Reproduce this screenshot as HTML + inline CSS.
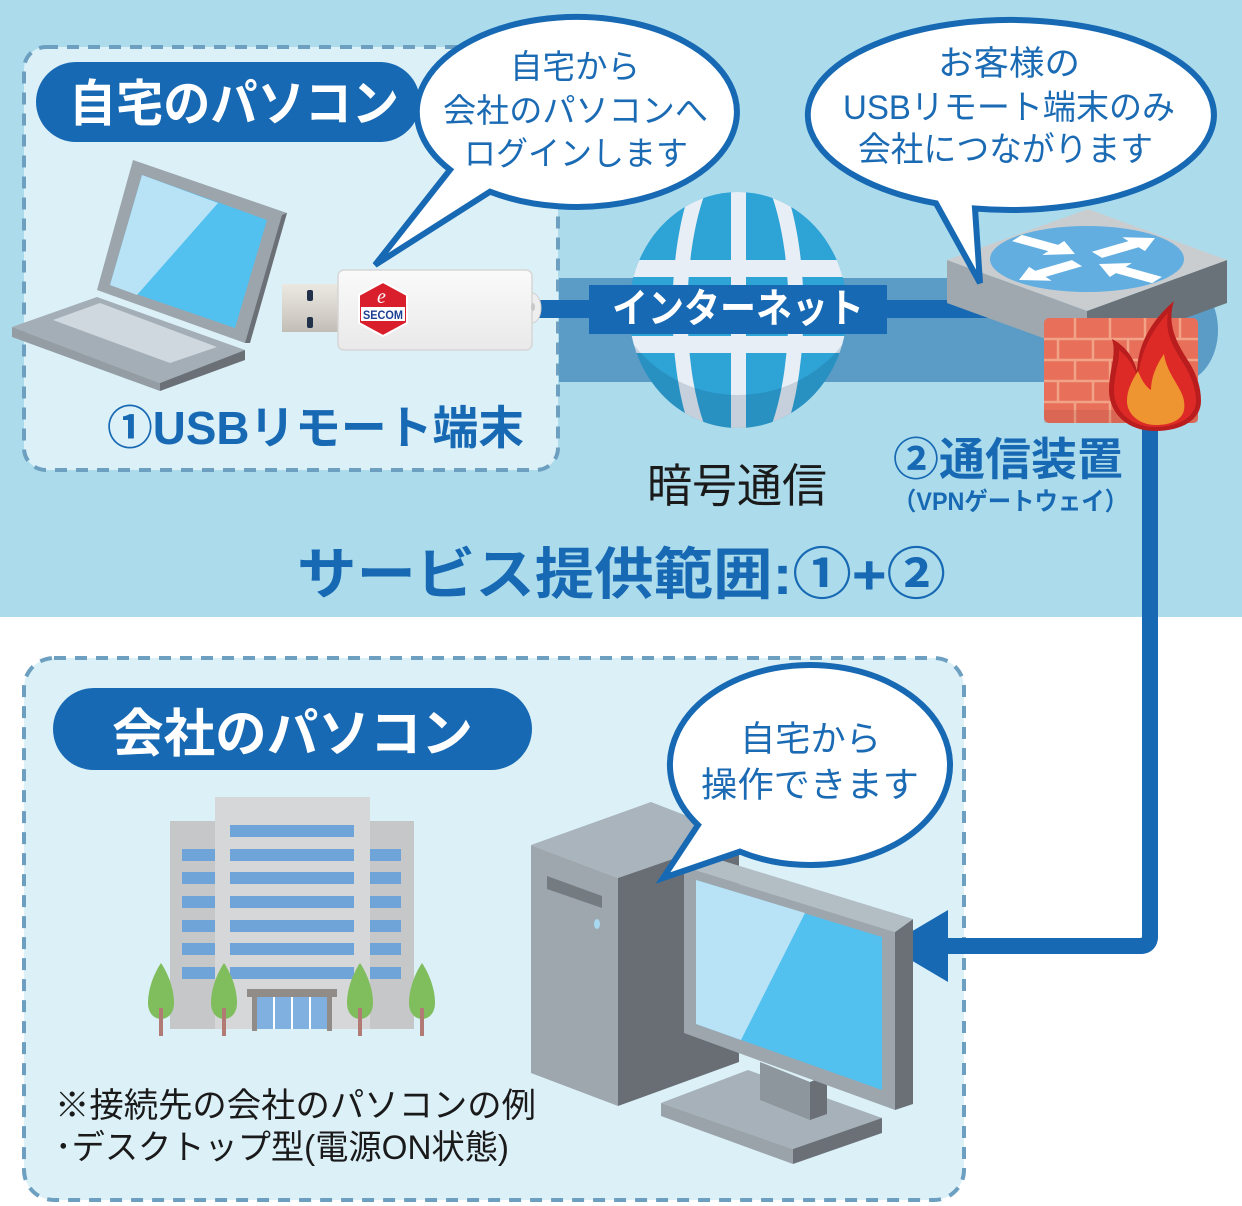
<!DOCTYPE html>
<html><head><meta charset="utf-8"><style>
html,body{margin:0;padding:0;background:#fff;}
svg{display:block;}
text{font-family:"Liberation Sans","Noto Sans CJK JP",sans-serif;}
.b{font-weight:700;}
</style></head><body>
<svg width="1242" height="1206" viewBox="0 0 1242 1206" xmlns="http://www.w3.org/2000/svg">
<defs>
<clipPath id="gc"><ellipse cx="738" cy="310" rx="109" ry="118"/></clipPath>
<linearGradient id="plug" x1="0" y1="0" x2="0" y2="1"><stop offset="0" stop-color="#ebe8e2"/><stop offset="0.5" stop-color="#d9d5ce"/><stop offset="1" stop-color="#c2bdb5"/></linearGradient>
<linearGradient id="ub" x1="0" y1="0" x2="0" y2="1"><stop offset="0" stop-color="#fafafa"/><stop offset="1" stop-color="#e9e9e9"/></linearGradient>
</defs>

<rect x="0" y="0" width="1242" height="617" fill="#acdcec"/>
<rect x="0" y="617" width="1242" height="589" fill="#ffffff"/>

<rect x="24" y="47" width="534" height="423" rx="22" fill="#dcf0f8" stroke="#6d9fc0" stroke-width="4" stroke-dasharray="12 9"/>

<path d="M559,278 H1180 A38 52 0 0 1 1180,382 H559 Z" fill="#5a9cc6"/>

<g clip-path="url(#gc)">
<rect x="620" y="180" width="240" height="260" fill="#2ea3d6"/>
<ellipse cx="738" cy="310" rx="58" ry="165" fill="none" stroke="#e7eef6" stroke-width="15"/>
<rect x="731" y="180" width="15" height="260" fill="#e7eef6"/>
<rect x="620" y="260" width="240" height="17" fill="#e7eef6"/>
<rect x="620" y="336" width="240" height="17" fill="#e7eef6"/>
<path fill-rule="evenodd" d="M620,180 H860 V440 H620 Z M608,270 A130 125 0 1 0 868,270 A130 125 0 1 0 608,270 Z" fill="rgba(20,55,85,0.16)"/>
</g>

<rect x="530" y="300" width="460" height="18" fill="#1769b3"/>
<rect x="589" y="285" width="298" height="49" fill="#1769b3"/>
<text x="612" y="322" font-size="40" class="b" fill="#ffffff" textLength="252" lengthAdjust="spacingAndGlyphs">インターネット</text>

<polygon points="947,260 1087,311 1087,354 947,303" fill="#9ea8ae"/>
<polygon points="1087,311 1227,260 1227,303 1087,354" fill="#697278"/>
<polygon points="947,260 1088,209 1227,260 1087,311" fill="#c9cdd0"/>
<ellipse cx="1087" cy="259" rx="97" ry="33" fill="#62aee0"/>
<g transform="translate(1087,259) scale(1,0.42)" fill="#ffffff">
<polygon points="-74.9,-42.5 -38.7,-18.7 -44.8,-9.5 -12,-12 -22.8,-42.9 -28.9,-33.7 -65.1,-57.5"/>
<polygon points="15.1,-2.6 51.7,-27.9 57.9,-18.8 68,-50 35.3,-51.8 41.5,-42.7 4.9,-17.4"/>
<polygon points="-15.1,2.6 -51.7,27.9 -57.9,18.8 -68,50 -35.3,51.8 -41.5,42.7 -4.9,17.4"/>
<polygon points="74.9,42.5 38.7,18.7 44.8,9.5 12,12 22.8,42.9 28.9,33.7 65.1,57.5"/>
</g>

<rect x="1044" y="318" width="154" height="105" rx="5" fill="#e8705a"/>
<g stroke="#f2a286" stroke-width="2.5">
<line x1="1044" y1="339" x2="1198" y2="339"/>
<line x1="1044" y1="360" x2="1198" y2="360"/>
<line x1="1044" y1="381" x2="1198" y2="381"/>
<line x1="1044" y1="402" x2="1198" y2="402"/>
<line x1="1075" y1="318" x2="1075" y2="339"/><line x1="1110" y1="318" x2="1110" y2="339"/><line x1="1145" y1="318" x2="1145" y2="339"/><line x1="1180" y1="318" x2="1180" y2="339"/>
<line x1="1058" y1="339" x2="1058" y2="360"/><line x1="1093" y1="339" x2="1093" y2="360"/><line x1="1128" y1="339" x2="1128" y2="360"/><line x1="1163" y1="339" x2="1163" y2="360"/>
<line x1="1075" y1="360" x2="1075" y2="381"/><line x1="1110" y1="360" x2="1110" y2="381"/><line x1="1145" y1="360" x2="1145" y2="381"/><line x1="1180" y1="360" x2="1180" y2="381"/>
<line x1="1058" y1="381" x2="1058" y2="402"/><line x1="1093" y1="381" x2="1093" y2="402"/><line x1="1128" y1="381" x2="1128" y2="402"/><line x1="1163" y1="381" x2="1163" y2="402"/>
<line x1="1075" y1="402" x2="1075" y2="423"/><line x1="1110" y1="402" x2="1110" y2="423"/><line x1="1145" y1="402" x2="1145" y2="423"/><line x1="1180" y1="402" x2="1180" y2="423"/>
</g>
<rect x="1044" y="410" width="154" height="13" fill="rgba(120,40,30,0.12)"/>

<path d="M1150,425 V936 Q1150,946 1140,946 H940" fill="none" stroke="#1769b3" stroke-width="16"/>
<polygon points="887,946 948,910 948,982" fill="#1769b3"/>

<path d="M1155,431 C1127,431 1109,413 1109,390 C1109,370 1117,355 1112,339 C1127,347 1134,359 1137,371 C1138,344 1151,321 1174,301 C1166,325 1178,345 1189,362 C1197,375 1201,388 1201,401 C1201,419 1183,431 1155,431 Z" fill="#b91d1d"/>
<path d="M1155,427 C1131,427 1114,411 1114,391 C1114,374 1120,362 1119,350 C1129,358 1135,368 1138,380 C1140,352 1152,330 1168,313 C1164,334 1175,350 1185,366 C1192,378 1196,390 1196,401 C1196,416 1180,427 1155,427 Z" fill="#de2a26"/>
<path d="M1156,425 C1139,425 1127,414 1127,401 C1127,389 1133,379 1138,371 C1142,381 1146,387 1151,390 C1151,377 1157,364 1164,354 C1166,369 1175,380 1181,392 C1184,398 1185,404 1184,410 C1182,420 1171,425 1156,425 Z" fill="#ee9430"/>

<path d="M936,203.3 A203 95 0 1 1 975,208.5 L980,283 Z" fill="#ffffff" stroke="#1769b3" stroke-width="6"/>
<text x="938" y="75" font-size="34" fill="#1a6ab4" textLength="142" lengthAdjust="spacingAndGlyphs">お客様の</text>
<text x="843" y="119" font-size="34" fill="#1a6ab4" textLength="332" lengthAdjust="spacingAndGlyphs">USBリモート端末のみ</text>
<text x="858" y="161" font-size="34" fill="#1a6ab4" textLength="295" lengthAdjust="spacingAndGlyphs">会社につながります</text>

<rect x="36" y="62" width="384" height="80" rx="40" fill="#1769b3"/>
<text x="69" y="121" font-size="50" class="b" fill="#ffffff" textLength="330" lengthAdjust="spacingAndGlyphs">自宅のパソコン</text>

<path d="M450,169.8 A160 95 0 1 1 490,191.7 L375,265 Z" fill="#ffffff" stroke="#1769b3" stroke-width="6"/>
<text x="510" y="78" font-size="33" fill="#1a6ab4" textLength="130" lengthAdjust="spacingAndGlyphs">自宅から</text>
<text x="443" y="122" font-size="33" fill="#1a6ab4" textLength="265" lengthAdjust="spacingAndGlyphs">会社のパソコンへ</text>
<text x="464" y="165" font-size="33" fill="#1a6ab4" textLength="224" lengthAdjust="spacingAndGlyphs">ログインします</text>

<polygon points="12,327 97,297 245,350 160,383" fill="#a4aeb6"/>
<polygon points="12,327 160,383 160,391 12,337" fill="#949da4"/>
<polygon points="160,383 245,350 245,360 160,391" fill="#6a7076"/>
<polygon points="53,320 100,303 217,347 170,363" fill="#cfd8df"/>
<polygon points="75,342 97,337 117,347 95,353" fill="#a4aeb6"/>
<polygon points="133,160 287,213 245,343 97,290" fill="#9ca5ac"/>
<polygon points="282,215 287,213 250,343 245,343" fill="#6a7076"/>
<polygon points="142,175 267,220 235,328 110,285" fill="#52c1ef"/>
<polygon points="142,175 218,203 137,295 110,285" fill="#b8e3f7"/>

<rect x="282" y="284" width="60" height="48" fill="url(#plug)"/>
<rect x="307" y="290" width="6" height="11" rx="2" fill="#23304a"/>
<rect x="307" y="317" width="6" height="11" rx="2" fill="#23304a"/>
<ellipse cx="532" cy="308" rx="9" ry="15" fill="#eeeeee" stroke="#d0d0d0" stroke-width="1"/>
<rect x="338" y="270" width="194" height="80" rx="6" fill="url(#ub)" stroke="#d6d6d6" stroke-width="1.5"/>
<ellipse cx="533" cy="307" rx="2" ry="4" fill="#c8c8c8"/>
<polygon points="383,282 407,295 407,323 383,336 359,323 359,295" fill="#d91f2b" stroke="#ffffff" stroke-width="2"/>
<rect x="361" y="307" width="44" height="14" fill="#ffffff"/>
<text x="363" y="319" font-size="12" class="b" fill="#1b3f93" textLength="40" lengthAdjust="spacingAndGlyphs">SECOM</text>
<text x="377" y="303" font-size="20" font-style="italic" fill="#ffffff" style="font-family:'Liberation Serif',serif">e</text>

<text x="107" y="444" font-size="46" class="b" fill="#1769b3" textLength="417" lengthAdjust="spacingAndGlyphs">①USBリモート端末</text>
<text x="647" y="502" font-size="46" fill="#1a1a1a" textLength="180" lengthAdjust="spacingAndGlyphs">暗号通信</text>
<text x="893" y="475" font-size="45" class="b" fill="#1769b3" textLength="230" lengthAdjust="spacingAndGlyphs">②通信装置</text>
<text x="893" y="510" font-size="25" class="b" fill="#1769b3" textLength="235" lengthAdjust="spacingAndGlyphs">（VPNゲートウェイ）</text>
<text x="297" y="594" font-size="56" class="b" fill="#1769b3" textLength="649" lengthAdjust="spacingAndGlyphs">サービス提供範囲:①+②</text>

<rect x="24" y="658" width="940" height="542" rx="30" fill="#dcf0f8" stroke="#6d9fc0" stroke-width="4" stroke-dasharray="12 9"/>

<path d="M1150,900 V936 Q1150,946 1140,946 H940" fill="none" stroke="#1769b3" stroke-width="16"/>
<polygon points="887,946 948,910 948,982" fill="#1769b3"/>

<rect x="53" y="688" width="479" height="82" rx="41" fill="#1769b3"/>
<text x="112" y="752" font-size="52" class="b" fill="#ffffff" textLength="361" lengthAdjust="spacingAndGlyphs">会社のパソコン</text>

<rect x="170" y="821" width="45" height="208" fill="#c5c7c9"/>
<rect x="370" y="821" width="44" height="208" fill="#c5c7c9"/>
<rect x="215" y="797" width="155" height="232" fill="#d5d7d9"/>
<g fill="#6fa4d8">
<rect x="230" y="825" width="124" height="12"/>
<rect x="230" y="849" width="124" height="12"/>
<rect x="230" y="872" width="124" height="12"/>
<rect x="230" y="896" width="124" height="12"/>
<rect x="230" y="920" width="124" height="12"/>
<rect x="230" y="943" width="124" height="12"/>
<rect x="230" y="967" width="124" height="12"/>
<rect x="182" y="849" width="33" height="12"/><rect x="370" y="849" width="31" height="12"/>
<rect x="182" y="872" width="33" height="12"/><rect x="370" y="872" width="31" height="12"/>
<rect x="182" y="896" width="33" height="12"/><rect x="370" y="896" width="31" height="12"/>
<rect x="182" y="920" width="33" height="12"/><rect x="370" y="920" width="31" height="12"/>
<rect x="182" y="943" width="33" height="12"/><rect x="370" y="943" width="31" height="12"/>
<rect x="182" y="967" width="33" height="12"/><rect x="370" y="967" width="31" height="12"/>
</g>
<rect x="257" y="997" width="70" height="32" fill="#80b0e0"/>
<g fill="#ffffff"><rect x="273" y="997" width="2" height="32"/><rect x="291" y="997" width="2" height="32"/><rect x="309" y="997" width="2" height="32"/></g>
<rect x="247" y="989" width="90" height="8" fill="#918c87"/>
<rect x="252" y="997" width="5" height="34" fill="#918c87"/>
<rect x="327" y="997" width="5" height="34" fill="#918c87"/>
<g>
<path d="M161,963 C169,975 174,990 174,1003 C174,1013 168,1019 161,1019 C154,1019 148,1013 148,1003 C148,990 153,975 161,963 Z" fill="#7fbd5d"/>
<rect x="159" y="1008" width="4" height="28" fill="#b27a74"/>
<path d="M224,963 C232,975 237,990 237,1003 C237,1013 231,1019 224,1019 C217,1019 211,1013 211,1003 C211,990 216,975 224,963 Z" fill="#7fbd5d"/>
<rect x="222" y="1008" width="4" height="28" fill="#b27a74"/>
<path d="M360,963 C368,975 373,990 373,1003 C373,1013 367,1019 360,1019 C353,1019 347,1013 347,1003 C347,990 352,975 360,963 Z" fill="#7fbd5d"/>
<rect x="358" y="1008" width="4" height="28" fill="#b27a74"/>
<path d="M422,963 C430,975 435,990 435,1003 C435,1013 429,1019 422,1019 C415,1019 409,1013 409,1003 C409,990 414,975 422,963 Z" fill="#7fbd5d"/>
<rect x="420" y="1008" width="4" height="28" fill="#b27a74"/>
</g>

<text x="55" y="1117" font-size="34" fill="#1a1a1a" textLength="481" lengthAdjust="spacingAndGlyphs">※接続先の会社のパソコンの例</text>
<text x="55" y="1159" font-size="34" fill="#1a1a1a" textLength="454" lengthAdjust="spacingAndGlyphs">･デスクトップ型(電源ON状態)</text>

<polygon points="531,845 651,802 739,836 618,878" fill="#a9b4bc"/>
<polygon points="531,845 618,878 618,1106 531,1073" fill="#9ea7ae"/>
<polygon points="618,878 739,836 739,1062 618,1106" fill="#686e74"/>
<polygon points="547,876 602,896 602,908 547,889" fill="#747b81"/>
<ellipse cx="597" cy="924" rx="3" ry="5" fill="#a8d8f0"/>

<polygon points="661,1103 748,1070 882,1118 793,1149" fill="#a6b1b9"/>
<polygon points="661,1103 793,1149 793,1164 661,1116" fill="#9aa3aa"/>
<polygon points="793,1149 882,1118 882,1133 793,1164" fill="#6a7076"/>
<polygon points="760,1062 810,1082 810,1120 760,1100" fill="#8d969d"/>
<polygon points="810,1082 827,1075 827,1114 810,1120" fill="#6a7076"/>
<polygon points="895,932 913,919 913,1104 895,1110" fill="#6a7076"/>
<polygon points="684,867 704,855 913,919 895,932" fill="#b3bdc4"/>
<polygon points="684,867 895,932 895,1110 684,1033" fill="#9da6ad"/>
<polygon points="696,880 882,937 882,1090 696,1024" fill="#52c1ef"/>
<polygon points="696,880 805,913 741,1040 696,1024" fill="#b8e3f7"/>

<path d="M698,825 A140 100 0 1 1 740,851.6 L663,878 Z" fill="#ffffff" stroke="#1769b3" stroke-width="6"/>
<text x="740" y="751" font-size="35" fill="#1a6ab4" textLength="141" lengthAdjust="spacingAndGlyphs">自宅から</text>
<text x="701" y="797" font-size="35" fill="#1a6ab4" textLength="218" lengthAdjust="spacingAndGlyphs">操作できます</text>

</svg>
</body></html>
